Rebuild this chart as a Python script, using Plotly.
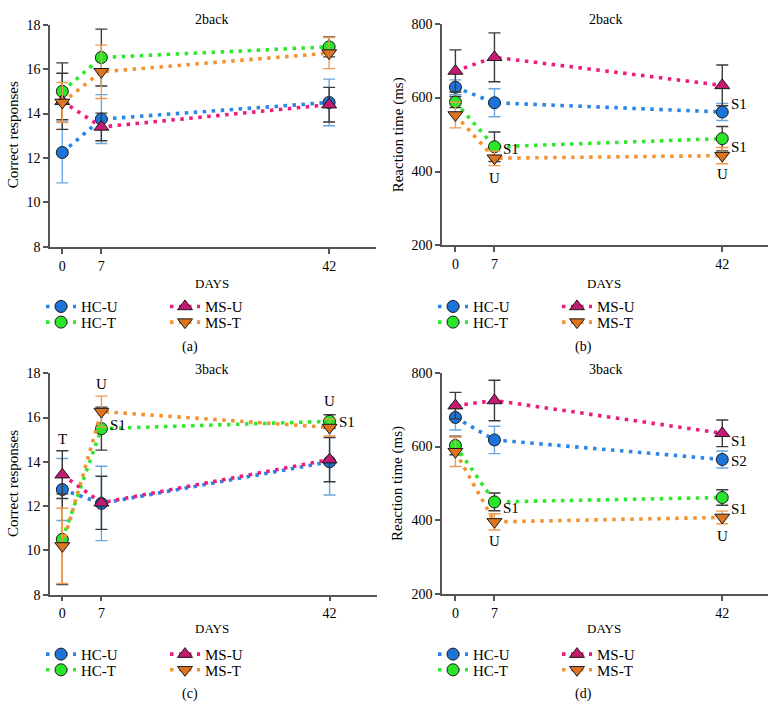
import plotly.graph_objects as go

# ---------------- data ----------------
days = [1, 7, 42]              # plotted positions of the three sessions
day_labels = ["0", "7", "42"]  # tick labels shown on the DAYS axis
series_names = ["HC-U", "HC-T", "MS-U", "MS-T"]

# (a) 2back - correct responses
a_hcu = [12.25, 13.75, 14.5];  a_hcu_err = [1.37, 1.1, 1.05]
a_hct = [15.0, 16.52, 17.0];   a_hct_err = [1.28, 1.28, 0.45]
a_msu = [14.55, 13.4, 14.4];   a_msu_err = [1.26, 0.62, 0.78]
a_mst = [14.5, 15.88, 16.72];  a_mst_err = [0.9, 1.2, 0.7]

# (b) 2back - reaction time (ms)
b_hcu = [628, 586, 561];  b_hcu_err = [20, 38, 23]
b_hct = [588, 467, 489];  b_hct_err = [15, 40, 33]
b_msu = [672, 709, 633];  b_msu_err = [57, 66, 55]
b_mst = [553, 436, 443];  b_mst_err = [35, 20, 22]

# (c) 3back - correct responses
c_hcu = [12.75, 12.12, 14.0];  c_hcu_err = [1.4, 1.68, 1.5]
c_hct = [10.5, 15.5, 15.83];   c_hct_err = [2.05, 0.97, 0.3]
c_msu = [13.42, 12.15, 14.1];  c_msu_err = [1.08, 1.2, 1.0]
c_mst = [10.2, 16.27, 15.55];  c_mst_err = [1.7, 0.7, 0.38]

# (d) 3back - reaction time (ms)
d_hcu = [679, 618, 565];  d_hcu_err = [34, 37, 23]
d_hct = [603, 450, 462];  d_hct_err = [25, 24, 21]
d_msu = [711, 725, 636];  d_msu_err = [36, 55, 36]
d_mst = [586, 396, 408];  d_mst_err = [40, 22, 17]

# significance labels: (text, day, value, side)
b_labels = [("S1", 7, 462, "r"), ("U", 7, 383, "c"), ("S1", 42, 584, "r"),
            ("S1", 42, 467, "r"), ("U", 42, 394, "c")]
c_labels = [("T", 1, 15.04, "c"), ("U", 7, 17.51, "c"), ("S1", 7, 15.67, "r"),
            ("U", 42, 16.73, "c"), ("S1", 42, 15.79, "r")]
d_labels = [("S1", 7, 432.6, "r"), ("U", 7, 344, "c"), ("S1", 42, 616, "r"),
            ("S2", 42, 561, "r"), ("S1", 42, 431, "r"), ("U", 42, 357, "c")]

panel_titles = ["2back", "2back", "3back", "3back"]
y_titles = ["Correct responses", "Reaction time (ms)", "Correct responses", "Reaction time (ms)"]
captions = ["(a)", "(b)", "(c)", "(d)"]

# ---------------- styling ----------------
W, H = 778, 728
FONT = "Liberation Serif, Times New Roman, DejaVu Serif, serif"
line_colors = ["#2a86e6", "#2ee82e", "#ec1c7c", "#f29232"]
fill_colors = ["#1c74d8", "#2ae62a", "#c41a72", "#dc7420"]
err_colors = ["#6aa6dc", "#3a3a3a", "#3a3a3a", "#ee9a50"]
symbols = ["circle", "circle", "triangle-up", "triangle-down"]
msizes = [12, 12, 13, 13]
AXC = "#555555"


def xd(l, r):
    return [l / W, r / W]


def yd(top, bottom):
    return [1 - bottom / H, 1 - top / H]


panels = [
    dict(vals=[(a_hcu, a_hcu_err), (a_hct, a_hct_err), (a_msu, a_msu_err), (a_mst, a_mst_err)],
         xdom=xd(50, 376), ydom=yd(18, 245), xr=[-0.89, 49.2], yr=[8, 18], dt=2,
         title=(212, 13), ytitle=(13, 131), days=(212, 282), cap=(190, 347),
         leg=[(41, 165), (306, 322)], labels=[]),
    dict(vals=[(b_hcu, b_hcu_err), (b_hct, b_hct_err), (b_msu, b_msu_err), (b_mst, b_mst_err)],
         xdom=xd(442, 768), ydom=yd(17, 243.5), xr=[-1.06, 49.03], yr=[200, 800], dt=200,
         title=(605, 13), ytitle=(398, 130), days=(604, 282), cap=(583, 347),
         leg=[(433, 557), (306, 322)], labels=b_labels),
    dict(vals=[(c_hcu, c_hcu_err), (c_hct, c_hct_err), (c_msu, c_msu_err), (c_mst, c_mst_err)],
         xdom=xd(50, 376.5), ydom=yd(374, 600), xr=[-0.89, 49.2], yr=[8, 18], dt=2,
         title=(212, 370), ytitle=(13, 487), days=(212, 635), cap=(190, 701),
         leg=[(41, 165), (661, 677)], labels=c_labels),
    dict(vals=[(d_hcu, d_hcu_err), (d_hct, d_hct_err), (d_msu, d_msu_err), (d_mst, d_mst_err)],
         xdom=xd(442, 768), ydom=yd(373.5, 599.5), xr=[-1.06, 49.03], yr=[200, 800], dt=200,
         title=(605, 370), ytitle=(398, 486), days=(604, 635), cap=(583, 701),
         leg=[(433, 557), (661, 677)], labels=d_labels),
]

fig = go.Figure()
layout = dict(
    width=W, height=H, margin=dict(l=0, r=0, t=0, b=0),
    paper_bgcolor="white", plot_bgcolor="white",
    font=dict(family=FONT, size=13, color="black"),
    annotations=[],
)

legend_count = 0
for p_i, p in enumerate(panels):
    sfx = "" if p_i == 0 else str(p_i + 1)
    xa, ya = "x" + sfx, "y" + sfx
    for s_i, (vals, errs) in enumerate(p["vals"]):
        legend_count += 1
        lname = "legend" if legend_count == 1 else "legend" + str(legend_count)
        col = 0 if s_i in (0, 1) else 1
        row = 0 if s_i in (0, 2) else 1
        fig.add_trace(go.Scatter(
            x=days, y=vals, name=series_names[s_i], mode="lines+markers",
            xaxis=xa, yaxis=ya, legend=lname, showlegend=True,
            line=dict(color=line_colors[s_i], width=3.6, dash="3.5px,5.5px"),
            marker=dict(symbol=symbols[s_i], size=msizes[s_i], color=fill_colors[s_i],
                        line=dict(color="#1a1a1a", width=1)),
            error_y=dict(type="data", array=errs, visible=True, color=err_colors[s_i],
                         thickness=1.4, width=6),
        ))
        layout[lname] = dict(
            x=p["leg"][0][col] / W, xanchor="left",
            y=1 - p["leg"][1][row] / H, yanchor="middle",
            bgcolor="rgba(0,0,0,0)", borderwidth=0,
            font=dict(family=FONT, size=15, color="black"),
            itemclick=False, itemdoubleclick=False,
        )
    layout["xaxis" + sfx] = dict(
        domain=p["xdom"], anchor=ya, range=p["xr"],
        tickmode="array", tickvals=days, ticktext=day_labels,
        showline=True, linecolor=AXC, linewidth=1.5,
        ticks="outside", ticklen=5, tickwidth=1.5, tickcolor=AXC,
        showgrid=False, zeroline=False,
        tickfont=dict(family=FONT, size=14, color="black"),
    )
    layout["yaxis" + sfx] = dict(
        domain=p["ydom"], anchor=xa, range=p["yr"], dtick=p["dt"], tick0=p["yr"][0],
        showline=True, linecolor=AXC, linewidth=1.5,
        ticks="outside", ticklen=5, tickwidth=1.5, tickcolor=AXC,
        showgrid=False, zeroline=False,
        tickfont=dict(family=FONT, size=14, color="black"),
    )
    anns = layout["annotations"]
    anns.append(dict(text=panel_titles[p_i], x=p["title"][0] / W, y=1 - p["title"][1] / H,
                     xref="paper", yref="paper", showarrow=False, xanchor="center", yanchor="middle",
                     font=dict(family=FONT, size=14, color="black")))
    anns.append(dict(text=y_titles[p_i], x=p["ytitle"][0] / W, y=1 - p["ytitle"][1] / H,
                     xref="paper", yref="paper", showarrow=False, textangle=-90,
                     xanchor="center", yanchor="middle",
                     font=dict(family=FONT, size=15, color="black")))
    anns.append(dict(text="DAYS", x=p["days"][0] / W, y=1 - p["days"][1] / H,
                     xref="paper", yref="paper", showarrow=False, xanchor="center", yanchor="middle",
                     font=dict(family=FONT, size=13, color="black")))
    anns.append(dict(text=captions[p_i], x=p["cap"][0] / W, y=1 - p["cap"][1] / H,
                     xref="paper", yref="paper", showarrow=False, xanchor="center", yanchor="middle",
                     font=dict(family=FONT, size=14, color="black")))
    for (txt, dday, val, side) in p["labels"]:
        anns.append(dict(text=txt, x=dday, y=val, xref=xa, yref=ya, showarrow=False,
                         xanchor="left" if side == "r" else "center", yanchor="middle",
                         xshift=7 if side == "r" else 0,
                         font=dict(family=FONT, size=15, color="black")))

fig.update_layout(**layout)
fig.write_html("out.html")
